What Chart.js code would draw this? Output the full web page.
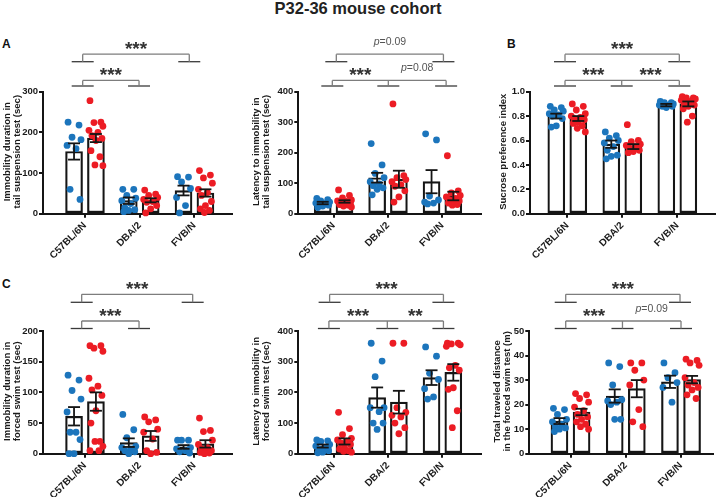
<!DOCTYPE html>
<html><head><meta charset="utf-8">
<script src="https://cdn.jsdelivr.net/npm/chart.js@4"></script>
<style>
html,body{margin:0;padding:0;background:#fff}
body{width:720px;height:497px;position:relative;overflow:hidden;font-family:"Liberation Sans",Arial,Helvetica,sans-serif}
#title{position:absolute;left:0;top:-2px;width:716px;text-align:center;font-weight:bold;font-size:16.5px;line-height:20px;color:#222}
.lbl{position:absolute;font-weight:bold;font-size:12px;line-height:12px;color:#111}
canvas{position:absolute}
</style></head>
<body>
<div id="title">P32-36 mouse cohort</div>
<div class="lbl" style="left:2px;top:38.4px">A</div>
<div class="lbl" style="left:507px;top:38.4px">B</div>
<div class="lbl" style="left:2px;top:278.4px">C</div>
<script>
const categories = ['C57BL/6N', 'DBA/2', 'FVB/N'];

// A (left): immobility duration in tail suspension test (sec)
const tstImmMeanBlue = [153, 32, 57];
const tstImmMeanRed  = [186, 33, 51];
const tstImmSemBlue  = [20, 8, 12];
const tstImmSemRed   = [10, 5, 9];
const tstImmPtsBlue  = [[225,218,188,182,168,160,60,35],[60,60,45,38,32,25,15,10,8,5],[91,90,78,62,40,20,2]];
const tstImmPtsRed   = [[278,225,224,215,205,200,192,185,180,155,140,120,118],[58,48,45,40,35,30,28,20,12,2],[106,95,88,75,60,52,45,30,20,12,8,3]];

// A (right): latency to immobility in tail suspension test (sec)
const tstLatMeanBlue = [35, 118, 105];
const tstLatMeanRed  = [40, 113, 58];
const tstLatSemBlue  = [4, 16, 38];
const tstLatSemRed   = [4, 28, 14];
const tstLatPtsBlue  = [[50,46,42,38,35,33,30,28,25,20],[230,160,132,118,105,98,92,85,80,62],[262,242,58,45,38,35,32]];
const tstLatPtsRed   = [[78,60,52,45,42,40,38,35,33,30,28,25,22],[360,125,118,112,105,95,90,75,55,38],[190,75,68,60,55,50,45,42,38,35,30,28]];

// B: sucrose preference index
const spiMeanBlue = [0.80, 0.57, 0.89];
const spiMeanRed  = [0.78, 0.55, 0.90];
const spiSemBlue  = [0.02, 0.03, 0.01];
const spiSemRed   = [0.02, 0.02, 0.02];
const spiPtsBlue  = [[0.88,0.87,0.85,0.84,0.82,0.81,0.80,0.78,0.72,0.71],[0.67,0.64,0.62,0.60,0.58,0.55,0.52,0.48,0.47,0.45],[0.92,0.91,0.91,0.90,0.89,0.89,0.88,0.88,0.87]];
const spiPtsRed   = [[0.90,0.88,0.85,0.82,0.80,0.79,0.78,0.77,0.75,0.74,0.72,0.70,0.67],[0.73,0.60,0.59,0.57,0.56,0.55,0.54,0.52,0.51,0.50],[0.96,0.95,0.95,0.94,0.93,0.92,0.90,0.89,0.88,0.86,0.80,0.75]];

// C (left): immobility duration in forced swim test (sec)
const fstImmMeanBlue = [61, 18, 11];
const fstImmMeanRed  = [85, 29, 16];
const fstImmSemBlue  = [15, 7, 3];
const fstImmSemRed   = [15, 8, 6];
const fstImmPtsBlue  = [[128,120,103,89,68,35,35,23,0,0],[64,39,26,12,10,8,5,3,0],[22,22,22,10,8,5,3,1]];
const fstImmPtsRed   = [[176,176,172,167,123,110,104,95,70,50,20,20,12,5,5],[60,55,52,40,35,24,5,2,0],[58,38,36,22,15,10,8,5,3,2,1,0]];

// C (middle): latency to immobility in forced swim test (sec)
const fstLatMeanBlue = [25, 183, 248];
const fstLatMeanRed  = [40, 168, 265];
const fstLatSemBlue  = [5, 33, 24];
const fstLatSemRed   = [10, 37, 27];
const fstLatPtsBlue  = [[45,42,40,30,25,20,15,10,5,3],[360,302,251,150,150,137,100,100,79],[348,318,262,242,212,185,178]];
const fstLatPtsRed   = [[135,82,62,50,45,40,35,30,20,15,10,8,5],[360,360,150,135,125,120,100,85,65],[360,360,358,355,350,288,280,272,215,210,140,85]];

// C (right): total traveled distance in the forced swim test (m)
const fstDistMeanBlue = [13.3, 23.5, 29.3];
const fstDistMeanRed  = [17, 26.5, 30.2];
const fstDistSemBlue  = [1.2, 2.7, 2.5];
const fstDistSemRed   = [1.3, 3.5, 1.5];
const fstDistPtsBlue  = [[18.5,18,16,14,13,12,11,10.5,10,9],[37,35.5,28,22,21.5,21,20,14,14],[37,33,31,29,27,21]];
const fstDistPtsRed   = [[24.5,24,22.5,21,19,17.5,16,15,14,13,12,11,10],[37,37,34,30,28,18,13,11],[38.5,38,37,36,31,29,28,27,26,24,22.5]];

const BLUE = '#1c75bc', RED = '#ec1c24', INK = '#151515';
const FONT = '"Liberation Sans", Arial, Helvetica, sans-serif';
const jitterPx = [-6, 5, -2, 7, -7, 2, -4, 6, 0, -5, 4, -1, 7, -6, 3];
const rowGeom = [
  {uShort: 30, uConn: 37.5, lShort: 5.7, lConn: 11.3},
  {uShort: 28.7, uConn: 36.7, lShort: 2.5, lConn: 10}
];

const panels = [
  {left:0, top:28, w:245, h:242, yW:43, padTop:63.7, padRight:13.3, xH:56.3, xMin:-0.767, xMax:2.68,
   yMax:300, yStep:100, dec:0, title:['Immobility duration in','tail suspension test (sec)'], titleX:7, row:0,
   mb:tstImmMeanBlue, mr:tstImmMeanRed, sb:tstImmSemBlue, sr:tstImmSemRed, pb:tstImmPtsBlue, pr:tstImmPtsRed,
   brackets:[{level:'upper', cats:[0,2], nudge:[-2.3,-5.2], labels:['***']},
             {level:'lower', cats:[0,1], nudge:[-2.3,-0.7], labels:['***']}]},
  {left:240, top:28, w:245, h:242, yW:58.3, padTop:63.7, padRight:2, xH:56.3, xMin:-0.649, xMax:2.709,
   yMax:400, yStep:100, dec:0, title:['Latency to immobility in','tail suspension test (sec)'], titleX:16, row:0,
   mb:tstLatMeanBlue, mr:tstLatMeanRed, sb:tstLatSemBlue, sr:tstLatSemRed, pb:tstLatPtsBlue, pr:tstLatPtsRed,
   brackets:[{level:'upper', cats:[0,2], nudge:[2.7,1], labels:['p=0.09']},
             {level:'lower', cats:[0,1,2], nudge:[-1.3,0.3,3.7], labels:['***','p=0.08']}]},
  {left:480, top:28, w:240, h:242, yW:50, padTop:63.7, padRight:5, xH:56.3, xMin:-0.678, xMax:2.685,
   yMax:1.0, yStep:0.2, dec:1, title:['Sucrose preference index'], titleX:23.3, row:0,
   mb:spiMeanBlue, mr:spiMeanRed, sb:spiSemBlue, sr:spiSemRed, pb:spiPtsBlue, pr:spiPtsRed,
   brackets:[{level:'upper', cats:[0,2], nudge:[-2.3,2], labels:['***']},
             {level:'lower', cats:[0,1,2], nudge:[-2.3,-0.6,2], labels:['***','***']}]},
  {left:0, top:270, w:245, h:227, yW:43, padTop:61, padRight:13.3, xH:43.3, xMin:-0.767, xMax:2.68,
   yMax:200, yStep:50, dec:0, title:['Immobility duration in','forced swim test (sec)'], titleX:7.3, row:1,
   mb:fstImmMeanBlue, mr:fstImmMeanRed, sb:fstImmSemBlue, sr:fstImmSemRed, pb:fstImmPtsBlue, pr:fstImmPtsRed,
   brackets:[{level:'upper', cats:[0,2], nudge:[-3.3,-1.8], labels:['***']},
             {level:'lower', cats:[0,1], nudge:[-3.3,-0.7], labels:['***']}]},
  {left:240, top:270, w:245, h:227, yW:58.3, padTop:61, padRight:2, xH:43.3, xMin:-0.649, xMax:2.709,
   yMax:400, yStep:100, dec:0, title:['Latency to immobility in','forced swim test (sec)'], titleX:16, row:1,
   mb:fstLatMeanBlue, mr:fstLatMeanRed, sb:fstLatSemBlue, sr:fstLatSemRed, pb:fstLatPtsBlue, pr:fstLatPtsRed,
   brackets:[{level:'upper', cats:[0,2], nudge:[-4,1], labels:['***']},
             {level:'lower', cats:[0,1,2], nudge:[-4.7,-0.7,1], labels:['***','**']}]},
  {left:480, top:270, w:240, h:227, yW:49.3, padTop:61, padRight:7, xH:43.3, xMin:-0.746, xMax:2.579,
   yMax:50, yStep:10, dec:0, title:['Total traveled distance','in the forced swim test (m)'], titleX:17.3, row:1,
   mb:fstDistMeanBlue, mr:fstDistMeanRed, sb:fstDistSemBlue, sr:fstDistSemRed, pb:fstDistPtsBlue, pr:fstDistPtsRed,
   brackets:[{level:'upper', cats:[0,2], nudge:[-4.8,-1], labels:['***']},
             {level:'lower', cats:[0,1,2], nudge:[-4.8,-3.3,0], labels:['***','p=0.09']}]}
];

function line(ctx, x0, y0, x1, y1) { ctx.beginPath(); ctx.moveTo(x0, y0); ctx.lineTo(x1, y1); ctx.stroke(); }

function drawLabel(ctx, t, cx, connY) {
  if (t.startsWith('p=')) {
    const rest = t.slice(1);
    ctx.font = 'italic 10.5px ' + FONT; const w1 = ctx.measureText('p').width;
    ctx.font = '10.5px ' + FONT; const w2 = ctx.measureText(rest).width;
    const x0 = cx - (w1 + w2) / 2;
    ctx.fillStyle = '#555'; ctx.textAlign = 'left'; ctx.textBaseline = 'alphabetic';
    ctx.font = 'italic 10.5px ' + FONT; ctx.fillText('p', x0, connY - 9.5);
    ctx.font = '10.5px ' + FONT; ctx.fillText(rest, x0 + w1, connY - 9.5);
  } else {
    ctx.font = 'bold 19px ' + FONT;
    ctx.fillStyle = '#333'; ctx.textAlign = 'center'; ctx.textBaseline = 'alphabetic';
    ctx.fillText(t, cx, connY + 1);
  }
}

const decorPlugin = {
  id: 'decor',
  afterDatasetsDraw(chart) {
    const p = chart.$panel, ctx = chart.ctx, xs = chart.scales.x, ys = chart.scales.y;
    ctx.save();
    // error bars (SEM)
    ctx.strokeStyle = INK; ctx.lineWidth = 1.8;
    [[p.mb, p.sb, -0.2], [p.mr, p.sr, 0.2]].forEach(([m, s, off]) => {
      m.forEach((v, i) => {
        const x = xs.getPixelForValue(i + off);
        const y1 = ys.getPixelForValue(v + s[i]), y0 = ys.getPixelForValue(Math.max(0, v - s[i]));
        line(ctx, x, y1, x, y0);
        line(ctx, x - 6, y1, x + 6, y1);
        line(ctx, x - 6, y0, x + 6, y0);
      });
    });
    ctx.restore();
  },
  afterDraw(chart) {
    const p = chart.$panel, ctx = chart.ctx, xs = chart.scales.x, ca = chart.chartArea;
    const T = ca.top, g = rowGeom[p.row];
    ctx.save();
    // brackets
    p.brackets.forEach(b => {
      const shortY = T - (b.level === 'upper' ? g.uShort : g.lShort);
      const connY = T - (b.level === 'upper' ? g.uConn : g.lConn);
      const px = b.cats.map((c, k) => xs.getPixelForValue(c) + b.nudge[k]);
      ctx.lineWidth = 1.3;
      ctx.strokeStyle = '#3a3a3a';
      px.forEach(x => line(ctx, x - 11, shortY, x + 11, shortY));
      ctx.strokeStyle = '#7d7d7d';
      px.forEach(x => line(ctx, x, shortY, x, connY));
      line(ctx, px[0], connY, px[px.length - 1], connY);
      b.labels.forEach((t, k) => { if (t) drawLabel(ctx, t, (px[k] + px[k + 1]) / 2, connY); });
    });
    // y-axis title
    ctx.fillStyle = '#1a1a1a'; ctx.font = 'bold 9.5px ' + FONT;
    ctx.textAlign = 'center'; ctx.textBaseline = 'middle';
    const cy = (ca.top + ca.bottom) / 2 - 1;
    p.title.forEach((t, i) => {
      ctx.save(); ctx.translate(p.titleX + i * 10, cy); ctx.rotate(-Math.PI / 2);
      ctx.fillText(t, 0, 0); ctx.restore();
    });
    ctx.restore();
  }
};

function pts(arr, off) {
  const out = [];
  arr.forEach((vals, i) => vals.forEach((v, k) => out.push({x: i + off + jitterPx[k % jitterPx.length] / 55, y: v})));
  return out;
}

panels.forEach(p => {
  const c = document.createElement('canvas');
  c.width = p.w; c.height = p.h;
  c.style.left = p.left + 'px'; c.style.top = p.top + 'px';
  c.style.width = p.w + 'px'; c.style.height = p.h + 'px';
  document.body.appendChild(c);
  const barDs = (m, off) => ({
    type: 'bar', data: m.map((v, i) => ({x: i + off, y: v})),
    backgroundColor: '#ffffff', borderColor: INK, borderWidth: 2.2, borderSkipped: false,
    barThickness: 17, grouped: false, order: 3
  });
  const ptDs = (arr, off, col) => ({
    type: 'scatter', data: pts(arr, off), backgroundColor: col, borderColor: col,
    borderWidth: 0, pointRadius: 3.4, order: 2, clip: false
  });
  const yFont = {family: FONT, size: 9.5, weight: 'bold'};
  const xFont = {family: FONT, size: 10, weight: 'bold'};
  new Chart(c, {
    type: 'bar',
    data: {datasets: [barDs(p.mb, -0.2), barDs(p.mr, 0.2), ptDs(p.pb, -0.2, BLUE), ptDs(p.pr, 0.2, RED)]},
    options: {
      responsive: false, animation: false, devicePixelRatio: 1,
      plugins: {legend: {display: false}, tooltip: {enabled: false}},
      layout: {padding: {top: p.padTop, right: p.padRight, left: 0, bottom: 0}},
      scales: {
        x: {
          type: 'linear', min: p.xMin, max: p.xMax, offset: false,
          afterBuildTicks: s => { s.ticks = [0, 1, 2].map(v => ({value: v})); },
          afterFit: s => { s.height = p.xH; },
          ticks: {callback: v => categories[v], minRotation: 45, maxRotation: 45, autoSkip: false,
                  font: xFont, color: '#1a1a1a', padding: 2},
          grid: {drawOnChartArea: false, drawTicks: true, tickLength: 4, color: INK, lineWidth: 2, offset: false},
          border: {display: true, color: INK, width: 2}
        },
        y: {
          min: 0, max: p.yMax,
          afterFit: s => { s.width = p.yW; },
          ticks: {stepSize: p.yStep, callback: v => Number(v).toFixed(p.dec), font: yFont, color: '#1a1a1a', padding: 1},
          grid: {drawOnChartArea: false, drawTicks: true, tickLength: 4, color: INK, lineWidth: 2},
          border: {display: true, color: INK, width: 2}
        }
      }
    },
    plugins: [{id: 'bind', beforeInit(chart) { chart.$panel = p; }}, decorPlugin]
  });
});
</script>
</body></html>
